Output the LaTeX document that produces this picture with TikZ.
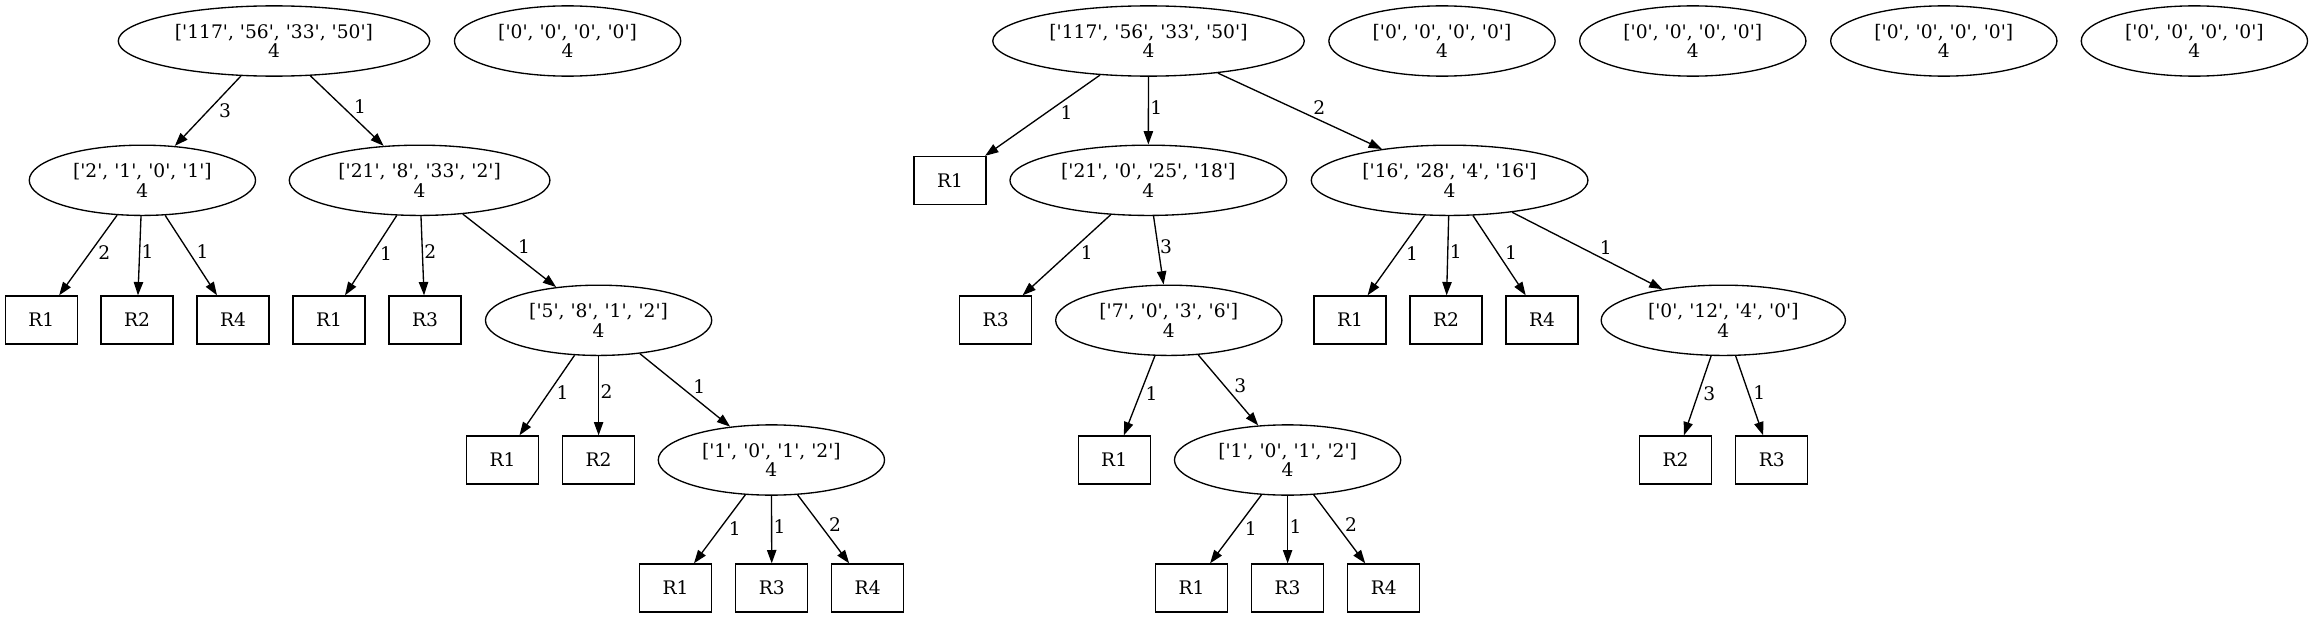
\documentclass[tikz,border=0pt]{standalone}
\usepackage{fontspec}
\setmainfont{DejaVu Serif}[Ligatures=TeXOff]
\usetikzlibrary{shapes.geometric,arrows.meta}

\tikzset{
  ell/.style={draw, ellipse, line width=1pt, minimum width=#1, minimum height=52.7pt, inner sep=0pt, align=center},
  ell/.default=169.7pt,
  leaf/.style={draw, line width=1pt, minimum width=54pt, minimum height=36pt, inner sep=0pt},
  arr/.style={-{Triangle[length=10pt,width=7pt]}, line width=1pt},
  lab/.style={inner sep=1pt},
  dl/.style={lab, below right, pos=.36},
  dr/.style={lab, above right, pos=.57},
  dv/.style={lab, right, pos=.45}
}

\begin{document}
\begin{tikzpicture}[x=0.75pt, y=-0.75pt, font=\fontsize{14pt}{14.5pt}\selectfont]
  \useasboundingbox (0,0) rectangle (2313,617);

  \node[ell=233.6pt] (r1) at (274,41) {['117', '56', '33', '50']\\4};
  \node[ell] (z1) at (567.6,41) {['0', '0', '0', '0']\\4};
  \node[ell] (a) at (142.4,180.3) {['2', '1', '0', '1']\\4};
  \node[ell=195.5pt] (b) at (419.6,180.3) {['21', '8', '33', '2']\\4};
  \node[leaf] (a1) at (41.3,320) {R1};
  \node[leaf] (a2) at (137,320) {R2};
  \node[leaf] (a3) at (233,320) {R4};
  \node[leaf] (b1) at (329,320) {R1};
  \node[leaf] (b2) at (425,320) {R3};
  \node[ell] (c) at (598.6,320.3) {['5', '8', '1', '2']\\4};
  \node[leaf] (c1) at (502.5,460) {R1};
  \node[leaf] (c2) at (598.6,460) {R2};
  \node[ell] (d) at (771.4,460) {['1', '0', '1', '2']\\4};
  \node[leaf] (d1) at (675.5,588) {R1};
  \node[leaf] (d2) at (771.8,588) {R3};
  \node[leaf] (d3) at (867.7,588) {R4};

  \node[ell=233.6pt] (r2) at (1148.5,41) {['117', '56', '33', '50']\\4};
  \node[ell] (z2) at (1442,41) {['0', '0', '0', '0']\\4};
  \node[ell] (z3) at (1692.8,41) {['0', '0', '0', '0']\\4};
  \node[ell] (z4) at (1943.8,41) {['0', '0', '0', '0']\\4};
  \node[ell] (z5) at (2194.4,41) {['0', '0', '0', '0']\\4};
  \node[leaf] (e0) at (950,180.5) {R1};
  \node[ell=207.5pt] (e) at (1148.3,180.3) {['21', '0', '25', '18']\\4};
  \node[ell=207.5pt] (f) at (1449.6,180.3) {['16', '28', '4', '16']\\4};
  \node[leaf] (e1) at (995.7,320) {R3};
  \node[ell] (g) at (1168.8,320.3) {['7', '0', '3', '6']\\4};
  \node[leaf] (f1) at (1350,320) {R1};
  \node[leaf] (f2) at (1446,320) {R2};
  \node[leaf] (f3) at (1542,320) {R4};
  \node[ell=183.2pt] (h) at (1723.3,320.3) {['0', '12', '4', '0']\\4};
  \node[leaf] (g1) at (1114.2,460) {R1};
  \node[ell] (i) at (1287.6,460) {['1', '0', '1', '2']\\4};
  \node[leaf] (h1) at (1675.5,460) {R2};
  \node[leaf] (h2) at (1771.7,460) {R3};
  \node[leaf] (i1) at (1191.6,588) {R1};
  \node[leaf] (i2) at (1287.6,588) {R3};
  \node[leaf] (i3) at (1383.7,588) {R4};

  \draw[arr] (r1) -- node[dl] {3} (a);
  \draw[arr] (r1) -- node[dr] {1} (b);
  \draw[arr] (a) -- node[dl] {2} (a1);
  \draw[arr] (a) -- node[dv] {1} (a2);
  \draw[arr] (a) -- node[dr] {1} (a3);
  \draw[arr] (b) -- node[dl] {1} (b1);
  \draw[arr] (b) -- node[dv] {2} (b2);
  \draw[arr] (b) -- node[dr] {1} (c);
  \draw[arr] (c) -- node[dl] {1} (c1);
  \draw[arr] (c) -- node[dv] {2} (c2);
  \draw[arr] (c) -- node[dr] {1} (d);
  \draw[arr] (d) -- node[dl] {1} (d1);
  \draw[arr] (d) -- node[dv] {1} (d2);
  \draw[arr] (d) -- node[dr] {2} (d3);

  \draw[arr] (r2) -- node[dl] {1} (e0);
  \draw[arr] (r2) -- node[dv] {1} (e);
  \draw[arr] (r2) -- node[dr] {2} (f);
  \draw[arr] (e) -- node[dl] {1} (e1);
  \draw[arr] (e) -- node[dv] {3} (g);
  \draw[arr] (f) -- node[dl] {1} (f1);
  \draw[arr] (f) -- node[dv] {1} (f2);
  \draw[arr] (f) -- node[dr] {1} (f3);
  \draw[arr] (f) -- node[dr] {1} (h);
  \draw[arr] (g) -- node[dl] {1} (g1);
  \draw[arr] (g) -- node[dr] {3} (i);
  \draw[arr] (h) -- node[dl] {3} (h1);
  \draw[arr] (h) -- node[dr] {1} (h2);
  \draw[arr] (i) -- node[dl] {1} (i1);
  \draw[arr] (i) -- node[dv] {1} (i2);
  \draw[arr] (i) -- node[dr] {2} (i3);
\end{tikzpicture}
\end{document}
